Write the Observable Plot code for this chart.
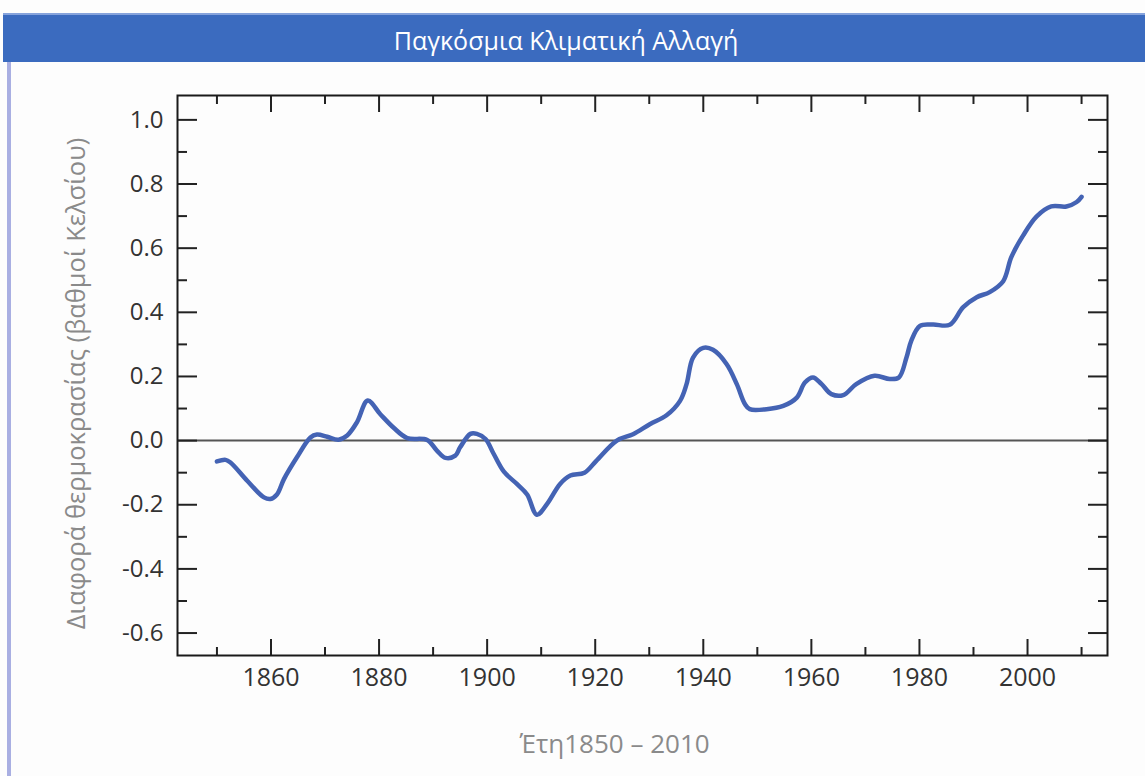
<!DOCTYPE html>
<html>
<head>
<meta charset="utf-8">
<script src="https://cdn.jsdelivr.net/npm/d3@7"></script>
<script src="https://cdn.jsdelivr.net/npm/@observablehq/plot@0.6"></script>
<style>
  html, body { margin: 0; padding: 0; }
  body { width: 1145px; height: 776px; position: relative; background: #fdfdfd; overflow: hidden; font-family: "Open Sans", sans-serif; }
  #titlebar { position: absolute; left: 3px; top: 13px; width: 1142px; height: 47px; background: #3b6bbf; border-top: 2px solid #86a3dc;
    color: #ffffff; font-size: 25px; box-sizing: content-box; text-align: center; line-height: 47px; }
  #titlebar span { position: relative; left: -8px; top: 2px; }
  #chart { position: absolute; left: 0; top: 62px; }
  #stripe { position: absolute; left: 7px; top: 62px; width: 4px; height: 714px; background: #a9afe2; }
</style>
</head>
<body>
<div id="titlebar"><span id="title"></span></div>
<div id="chart"></div>
<div id="stripe"></div>
<script>
// ---- data ----
const years = [1850, 1851.6, 1852.5, 1855.6, 1858.7, 1859.9, 1861.1, 1862.4, 1864.8, 1867.3,
  1868.5, 1870.4, 1872.5, 1874.1, 1875.9, 1877.9, 1880.2, 1882.7, 1885.2, 1888.9,
  1890.7, 1892.3, 1894.1, 1895, 1896.9, 1898.1, 1899.7, 1901.2, 1903.1, 1905.5,
  1907.4, 1909.2, 1911.1, 1913.5, 1915.4, 1918, 1920.2, 1924, 1927, 1930.1,
  1933.2, 1935.7, 1936.9, 1938.1, 1940, 1941.8, 1944.3, 1946.2, 1947.7, 1948.6,
  1951.7, 1954.8, 1957.3, 1958.8, 1960.3, 1961.9, 1963.7, 1965.9, 1968.3, 1971.7,
  1974.5, 1976.2, 1977.6, 1978.5, 1980.1, 1982.5, 1985.6, 1988.1, 1990.6, 1993.0,
  1995.5, 1997.0, 1999.2, 2001.7, 2004.4, 2007.2, 2009.1, 2010];
const anomaly = [-0.065, -0.06, -0.068, -0.125, -0.177, -0.182, -0.168, -0.12, -0.052, 0.01,
  0.019, 0.012, 0.003, 0.016, 0.057, 0.125, 0.083, 0.04, 0.008, 0.002,
  -0.031, -0.054, -0.047, -0.021, 0.021, 0.021, 0.005, -0.041, -0.097, -0.135,
  -0.168, -0.231, -0.197, -0.135, -0.109, -0.1, -0.063, 0.0, 0.02, 0.051,
  0.079, 0.124, 0.176, 0.259, 0.289, 0.283, 0.239, 0.176, 0.114, 0.098,
  0.098, 0.108, 0.134, 0.181, 0.197, 0.176, 0.145, 0.142, 0.176, 0.202,
  0.192, 0.197, 0.259, 0.312, 0.358, 0.362, 0.361, 0.416, 0.447, 0.463,
  0.497, 0.572, 0.640, 0.699, 0.730, 0.730, 0.744, 0.76];
const yMajorTicks = [-0.6, -0.4, -0.2, 0.0, 0.2, 0.4, 0.6, 0.8, 1.0];
const yMinorTicks = [-0.5, -0.3, -0.1, 0.1, 0.3, 0.5, 0.7, 0.9];
const xMajorTicks = [1860, 1880, 1900, 1920, 1940, 1960, 1980, 2000];
const xMinorTicks = [1850, 1870, 1890, 1910, 1930, 1950, 1970, 1990, 2010];
const titleText = "Παγκόσμια Κλιματική Αλλαγή";
const yLabel = "Διαφορά θερμοκρασίας (βαθμοί Κελσίου)";
const xLabel = "Έτη1850 – 2010";

document.getElementById("title").textContent = titleText;

const data = years.map((y, i) => ({year: y, value: anomaly[i]}));
const tickColor = "#222";

const chart = Plot.plot({
  width: 1145,
  height: 714,
  marginTop: 33,
  marginLeft: 177,
  marginRight: 38,
  marginBottom: 121,
  x: {domain: [1842.7, 2014.8]},
  y: {domain: [-0.67, 1.076]},
  style: {fontFamily: "'Open Sans', sans-serif", background: "transparent", color: "#333"},
  marks: [
    Plot.ruleY([0], {stroke: "#555", strokeWidth: 2}),
    Plot.line(data, {x: "year", y: "value", stroke: "#4463b4", strokeWidth: 4.5, curve: "catmull-rom", strokeLinejoin: "round", strokeLinecap: "round"}),
    // inward tick marks
    Plot.axisY(yMajorTicks, {anchor: "left", tickSize: -20, fill: "none", stroke: tickColor, strokeWidth: 2, label: null}),
    Plot.axisY(yMinorTicks, {anchor: "left", tickSize: -10, fill: "none", stroke: tickColor, strokeWidth: 2, label: null}),
    Plot.axisY(yMajorTicks, {anchor: "right", tickSize: -20, fill: "none", stroke: tickColor, strokeWidth: 2, label: null}),
    Plot.axisY(yMinorTicks, {anchor: "right", tickSize: -10, fill: "none", stroke: tickColor, strokeWidth: 2, label: null}),
    Plot.axisX(xMajorTicks, {anchor: "bottom", tickSize: -16, fill: "none", stroke: tickColor, strokeWidth: 2, label: null}),
    Plot.axisX(xMinorTicks, {anchor: "bottom", tickSize: -8, fill: "none", stroke: tickColor, strokeWidth: 2, label: null}),
    Plot.axisX(xMajorTicks, {anchor: "top", tickSize: -16, fill: "none", stroke: tickColor, strokeWidth: 2, label: null}),
    Plot.axisX(xMinorTicks, {anchor: "top", tickSize: -8, fill: "none", stroke: tickColor, strokeWidth: 2, label: null}),
    // tick labels + axis titles
    Plot.axisY(yMajorTicks, {anchor: "left", tickSize: 0, tickPadding: 14, fontSize: 24, fill: "#333",
      tickFormat: d => d.toFixed(1), label: null}),
    Plot.axisX(xMajorTicks, {anchor: "bottom", tickSize: 0, tickPadding: 13, fontSize: 25, fill: "#333",
      tickFormat: d => String(d), label: null}),
    Plot.text([yLabel], {frameAnchor: "left", textAnchor: "middle", text: d => d, rotate: -90, dx: -101, dy: 8, fontSize: 25.5, fill: "#8a8a8a"}),
    Plot.text([xLabel], {frameAnchor: "bottom", textAnchor: "middle", text: d => d, dy: 97, dx: -28, fontSize: 26, fill: "#8a8a8a"}),
    Plot.frame({stroke: "#1a1a1a", strokeWidth: 2})
  ]
});
document.getElementById("chart").appendChild(chart);
</script>
</body>
</html>
